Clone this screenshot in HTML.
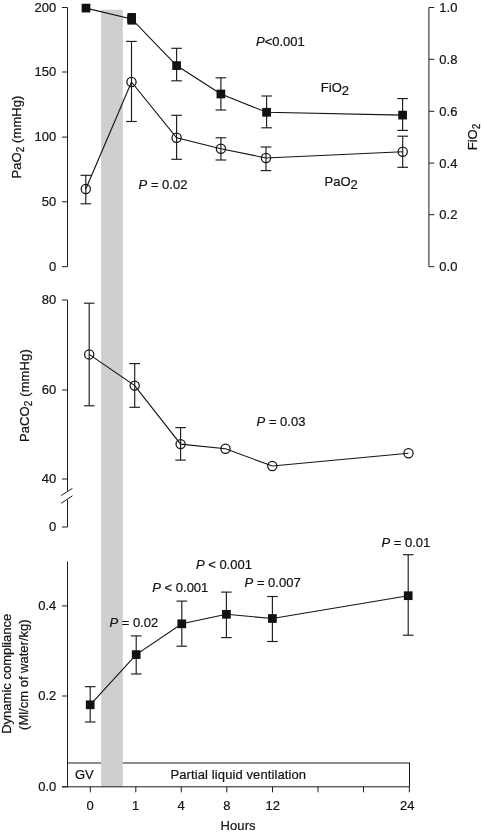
<!DOCTYPE html>
<html><head><meta charset="utf-8"><title>Figure</title>
<style>
html,body{margin:0;padding:0;background:#fff;}
body{width:483px;height:833px;overflow:hidden;}
svg{display:block;font-family:"Liberation Sans",sans-serif;}
text{fill:#141414;stroke:#141414;stroke-width:0.22px;}
</style></head><body>
<svg width="483" height="833" viewBox="0 0 483 833">
<rect width="483" height="833" fill="#fff"/>
<line x1="67.5" y1="763" x2="409.5" y2="763" stroke="#1c1c1c" stroke-width="1.0"/>
<rect x="101.1" y="9.7" width="21.7" height="777.1" fill="#cfcfcf"/>
<line x1="67.5" y1="7.5" x2="67.5" y2="266.7" stroke="#1c1c1c" stroke-width="1.0"/>
<line x1="62" y1="7.5" x2="67.5" y2="7.5" stroke="#1c1c1c" stroke-width="1.0"/>
<text x="56.3" y="11.8" text-anchor="end" font-size="13" >200</text>
<line x1="62" y1="72" x2="67.5" y2="72" stroke="#1c1c1c" stroke-width="1.0"/>
<text x="56.3" y="76.3" text-anchor="end" font-size="13" >150</text>
<line x1="62" y1="137.1" x2="67.5" y2="137.1" stroke="#1c1c1c" stroke-width="1.0"/>
<text x="56.3" y="141.4" text-anchor="end" font-size="13" >100</text>
<line x1="62" y1="201.8" x2="67.5" y2="201.8" stroke="#1c1c1c" stroke-width="1.0"/>
<text x="56.3" y="206.10000000000002" text-anchor="end" font-size="13" >50</text>
<line x1="62" y1="266.7" x2="67.5" y2="266.7" stroke="#1c1c1c" stroke-width="1.0"/>
<text x="56.3" y="271.0" text-anchor="end" font-size="13" >0</text>
<line x1="428.9" y1="7.5" x2="428.9" y2="266.7" stroke="#1c1c1c" stroke-width="1.0"/>
<line x1="428.9" y1="7.5" x2="434.3" y2="7.5" stroke="#1c1c1c" stroke-width="1.0"/>
<text x="439.3" y="11.9" text-anchor="start" font-size="13" >1.0</text>
<line x1="428.9" y1="59.3" x2="434.3" y2="59.3" stroke="#1c1c1c" stroke-width="1.0"/>
<text x="439.3" y="63.699999999999996" text-anchor="start" font-size="13" >0.8</text>
<line x1="428.9" y1="111.3" x2="434.3" y2="111.3" stroke="#1c1c1c" stroke-width="1.0"/>
<text x="439.3" y="115.7" text-anchor="start" font-size="13" >0.6</text>
<line x1="428.9" y1="163.1" x2="434.3" y2="163.1" stroke="#1c1c1c" stroke-width="1.0"/>
<text x="439.3" y="167.5" text-anchor="start" font-size="13" >0.4</text>
<line x1="428.9" y1="214.7" x2="434.3" y2="214.7" stroke="#1c1c1c" stroke-width="1.0"/>
<text x="439.3" y="219.1" text-anchor="start" font-size="13" >0.2</text>
<line x1="428.9" y1="266.7" x2="434.3" y2="266.7" stroke="#1c1c1c" stroke-width="1.0"/>
<text x="439.3" y="271.09999999999997" text-anchor="start" font-size="13" >0.0</text>
<text transform="translate(21,137) rotate(-90)" text-anchor="middle" font-size="13" letter-spacing="0.08">PaO<tspan font-size="10" dy="3.3">2</tspan><tspan dy="-3.3"> (mmHg)</tspan></text>
<text transform="translate(476.6,137) rotate(-90)" text-anchor="middle" font-size="13">FiO<tspan font-size="10" dy="3.3">2</tspan></text>
<line x1="85.8" y1="175.3" x2="85.8" y2="203.8" stroke="#1c1c1c" stroke-width="1.15"/>
<line x1="80.5" y1="175.3" x2="91.1" y2="175.3" stroke="#1c1c1c" stroke-width="1.15"/>
<line x1="80.5" y1="203.8" x2="91.1" y2="203.8" stroke="#1c1c1c" stroke-width="1.15"/>
<line x1="131.5" y1="41.4" x2="131.5" y2="121.5" stroke="#1c1c1c" stroke-width="1.15"/>
<line x1="126.2" y1="41.4" x2="136.8" y2="41.4" stroke="#1c1c1c" stroke-width="1.15"/>
<line x1="126.2" y1="121.5" x2="136.8" y2="121.5" stroke="#1c1c1c" stroke-width="1.15"/>
<line x1="176.6" y1="115.3" x2="176.6" y2="159.3" stroke="#1c1c1c" stroke-width="1.15"/>
<line x1="171.29999999999998" y1="115.3" x2="181.9" y2="115.3" stroke="#1c1c1c" stroke-width="1.15"/>
<line x1="171.29999999999998" y1="159.3" x2="181.9" y2="159.3" stroke="#1c1c1c" stroke-width="1.15"/>
<line x1="220.9" y1="137.8" x2="220.9" y2="160" stroke="#1c1c1c" stroke-width="1.15"/>
<line x1="215.6" y1="137.8" x2="226.20000000000002" y2="137.8" stroke="#1c1c1c" stroke-width="1.15"/>
<line x1="215.6" y1="160" x2="226.20000000000002" y2="160" stroke="#1c1c1c" stroke-width="1.15"/>
<line x1="266" y1="147" x2="266" y2="170.6" stroke="#1c1c1c" stroke-width="1.15"/>
<line x1="260.7" y1="147" x2="271.3" y2="147" stroke="#1c1c1c" stroke-width="1.15"/>
<line x1="260.7" y1="170.6" x2="271.3" y2="170.6" stroke="#1c1c1c" stroke-width="1.15"/>
<line x1="402.7" y1="136.2" x2="402.7" y2="167.3" stroke="#1c1c1c" stroke-width="1.15"/>
<line x1="397.4" y1="136.2" x2="408.0" y2="136.2" stroke="#1c1c1c" stroke-width="1.15"/>
<line x1="397.4" y1="167.3" x2="408.0" y2="167.3" stroke="#1c1c1c" stroke-width="1.15"/>
<line x1="176.6" y1="48.3" x2="176.6" y2="80.8" stroke="#1c1c1c" stroke-width="1.15"/>
<line x1="171.29999999999998" y1="48.3" x2="181.9" y2="48.3" stroke="#1c1c1c" stroke-width="1.15"/>
<line x1="171.29999999999998" y1="80.8" x2="181.9" y2="80.8" stroke="#1c1c1c" stroke-width="1.15"/>
<line x1="220.9" y1="77.8" x2="220.9" y2="110" stroke="#1c1c1c" stroke-width="1.15"/>
<line x1="215.6" y1="77.8" x2="226.20000000000002" y2="77.8" stroke="#1c1c1c" stroke-width="1.15"/>
<line x1="215.6" y1="110" x2="226.20000000000002" y2="110" stroke="#1c1c1c" stroke-width="1.15"/>
<line x1="266.6" y1="96" x2="266.6" y2="127.8" stroke="#1c1c1c" stroke-width="1.15"/>
<line x1="261.3" y1="96" x2="271.90000000000003" y2="96" stroke="#1c1c1c" stroke-width="1.15"/>
<line x1="261.3" y1="127.8" x2="271.90000000000003" y2="127.8" stroke="#1c1c1c" stroke-width="1.15"/>
<line x1="402.6" y1="98.6" x2="402.6" y2="130.4" stroke="#1c1c1c" stroke-width="1.15"/>
<line x1="397.3" y1="98.6" x2="407.90000000000003" y2="98.6" stroke="#1c1c1c" stroke-width="1.15"/>
<line x1="397.3" y1="130.4" x2="407.90000000000003" y2="130.4" stroke="#1c1c1c" stroke-width="1.15"/>
<polyline fill="none" stroke="#141414" stroke-width="1.15" points="85.8,189 131.5,82 176.6,137.8 220.9,148.7 266,158 402.7,151.7"/>
<polyline fill="none" stroke="#141414" stroke-width="1.15" points="86,8.1 131.6,18.9 176.6,65.6 220.9,94 266.6,112.3 402.6,115.1"/>
<circle cx="85.8" cy="189" r="4.6" fill="none" stroke="#141414" stroke-width="1.25"/>
<circle cx="131.5" cy="82" r="4.6" fill="none" stroke="#141414" stroke-width="1.25"/>
<circle cx="176.6" cy="137.8" r="4.6" fill="none" stroke="#141414" stroke-width="1.25"/>
<circle cx="220.9" cy="148.7" r="4.6" fill="none" stroke="#141414" stroke-width="1.25"/>
<circle cx="266" cy="158" r="4.6" fill="none" stroke="#141414" stroke-width="1.25"/>
<circle cx="402.7" cy="151.7" r="4.6" fill="none" stroke="#141414" stroke-width="1.25"/>
<rect x="81.65" y="3.75" width="8.7" height="8.7" fill="#111"/>
<rect x="127.25" y="14.549999999999999" width="8.7" height="8.7" fill="#111"/>
<rect x="172.25" y="61.24999999999999" width="8.7" height="8.7" fill="#111"/>
<rect x="216.55" y="89.65" width="8.7" height="8.7" fill="#111"/>
<rect x="262.25" y="107.95" width="8.7" height="8.7" fill="#111"/>
<rect x="398.25" y="110.75" width="8.7" height="8.7" fill="#111"/>
<rect x="127.5" y="13" width="8.4" height="11.6" fill="#111"/>
<text x="256" y="46" text-anchor="start" font-size="13" ><tspan font-style="italic">P</tspan>&lt;0.001</text>
<text x="320.8" y="91.8" text-anchor="start" font-size="13" >FiO<tspan dy="3.2">2</tspan></text>
<text x="138.6" y="189.4" text-anchor="start" font-size="13" ><tspan font-style="italic">P</tspan> = 0.02</text>
<text x="324.6" y="185.8" text-anchor="start" font-size="13" >PaO<tspan dy="3.2">2</tspan></text>
<line x1="67.5" y1="300" x2="67.5" y2="490.8" stroke="#1c1c1c" stroke-width="1.0"/>
<line x1="67.5" y1="499.6" x2="67.5" y2="527" stroke="#1c1c1c" stroke-width="1.0"/>
<line x1="61.1" y1="495.5" x2="72.5" y2="488.3" stroke="#1c1c1c" stroke-width="1.0"/>
<line x1="61.1" y1="503.3" x2="72.5" y2="495.8" stroke="#1c1c1c" stroke-width="1.0"/>
<line x1="62" y1="300" x2="67.5" y2="300" stroke="#1c1c1c" stroke-width="1.0"/>
<text x="56.3" y="304.3" text-anchor="end" font-size="13" >80</text>
<line x1="62" y1="390" x2="67.5" y2="390" stroke="#1c1c1c" stroke-width="1.0"/>
<text x="56.3" y="394.3" text-anchor="end" font-size="13" >60</text>
<line x1="62" y1="479" x2="67.5" y2="479" stroke="#1c1c1c" stroke-width="1.0"/>
<text x="56.3" y="483.3" text-anchor="end" font-size="13" >40</text>
<line x1="62" y1="527" x2="67.5" y2="527" stroke="#1c1c1c" stroke-width="1.0"/>
<text x="56.3" y="531.3" text-anchor="end" font-size="13" >0</text>
<text transform="translate(28.9,395.6) rotate(-90)" text-anchor="middle" font-size="13" letter-spacing="0.12">PaCO<tspan font-size="10" dy="3.3">2</tspan><tspan dy="-3.3"> (mmHg)</tspan></text>
<line x1="89.2" y1="303.2" x2="89.2" y2="405.8" stroke="#1c1c1c" stroke-width="1.15"/>
<line x1="83.9" y1="303.2" x2="94.5" y2="303.2" stroke="#1c1c1c" stroke-width="1.15"/>
<line x1="83.9" y1="405.8" x2="94.5" y2="405.8" stroke="#1c1c1c" stroke-width="1.15"/>
<line x1="134.7" y1="363.6" x2="134.7" y2="407.3" stroke="#1c1c1c" stroke-width="1.15"/>
<line x1="129.39999999999998" y1="363.6" x2="140.0" y2="363.6" stroke="#1c1c1c" stroke-width="1.15"/>
<line x1="129.39999999999998" y1="407.3" x2="140.0" y2="407.3" stroke="#1c1c1c" stroke-width="1.15"/>
<line x1="180.6" y1="427.6" x2="180.6" y2="460.1" stroke="#1c1c1c" stroke-width="1.15"/>
<line x1="175.29999999999998" y1="427.6" x2="185.9" y2="427.6" stroke="#1c1c1c" stroke-width="1.15"/>
<line x1="175.29999999999998" y1="460.1" x2="185.9" y2="460.1" stroke="#1c1c1c" stroke-width="1.15"/>
<polyline fill="none" stroke="#141414" stroke-width="1.15" points="89.2,354.4 134.7,385.6 180.6,444.1 225.5,448.8 272.3,466 408.5,453.3"/>
<circle cx="89.2" cy="354.4" r="4.6" fill="none" stroke="#141414" stroke-width="1.25"/>
<circle cx="134.7" cy="385.6" r="4.6" fill="none" stroke="#141414" stroke-width="1.25"/>
<circle cx="180.6" cy="444.1" r="4.6" fill="none" stroke="#141414" stroke-width="1.25"/>
<circle cx="225.5" cy="448.8" r="4.6" fill="none" stroke="#141414" stroke-width="1.25"/>
<circle cx="272.3" cy="466" r="4.6" fill="none" stroke="#141414" stroke-width="1.25"/>
<circle cx="408.5" cy="453.3" r="4.6" fill="none" stroke="#141414" stroke-width="1.25"/>
<text x="256.6" y="425.6" text-anchor="start" font-size="13" ><tspan font-style="italic">P</tspan> = 0.03</text>
<line x1="67.5" y1="561.5" x2="67.5" y2="786.8" stroke="#1c1c1c" stroke-width="1.0"/>
<line x1="62" y1="605.9" x2="67.5" y2="605.9" stroke="#1c1c1c" stroke-width="1.0"/>
<text x="56.3" y="610.1999999999999" text-anchor="end" font-size="13" >0.4</text>
<line x1="62" y1="696" x2="67.5" y2="696" stroke="#1c1c1c" stroke-width="1.0"/>
<text x="56.3" y="700.3" text-anchor="end" font-size="13" >0.2</text>
<line x1="62" y1="786.8" x2="67.5" y2="786.8" stroke="#1c1c1c" stroke-width="1.0"/>
<text x="56.3" y="791.0999999999999" text-anchor="end" font-size="13" >0.0</text>
<text transform="translate(11.2,673.8) rotate(-90)" text-anchor="middle" font-size="13">Dynamic compliance</text>
<text transform="translate(27.6,674.7) rotate(-90)" text-anchor="middle" font-size="13">(Ml/cm of water/kg)</text>
<line x1="90.2" y1="686.7" x2="90.2" y2="722" stroke="#1c1c1c" stroke-width="1.15"/>
<line x1="84.9" y1="686.7" x2="95.5" y2="686.7" stroke="#1c1c1c" stroke-width="1.15"/>
<line x1="84.9" y1="722" x2="95.5" y2="722" stroke="#1c1c1c" stroke-width="1.15"/>
<line x1="136.2" y1="635.9" x2="136.2" y2="674" stroke="#1c1c1c" stroke-width="1.15"/>
<line x1="130.89999999999998" y1="635.9" x2="141.5" y2="635.9" stroke="#1c1c1c" stroke-width="1.15"/>
<line x1="130.89999999999998" y1="674" x2="141.5" y2="674" stroke="#1c1c1c" stroke-width="1.15"/>
<line x1="181.8" y1="601.1" x2="181.8" y2="646.2" stroke="#1c1c1c" stroke-width="1.15"/>
<line x1="176.5" y1="601.1" x2="187.10000000000002" y2="601.1" stroke="#1c1c1c" stroke-width="1.15"/>
<line x1="176.5" y1="646.2" x2="187.10000000000002" y2="646.2" stroke="#1c1c1c" stroke-width="1.15"/>
<line x1="226.4" y1="592.1" x2="226.4" y2="637.6" stroke="#1c1c1c" stroke-width="1.15"/>
<line x1="221.1" y1="592.1" x2="231.70000000000002" y2="592.1" stroke="#1c1c1c" stroke-width="1.15"/>
<line x1="221.1" y1="637.6" x2="231.70000000000002" y2="637.6" stroke="#1c1c1c" stroke-width="1.15"/>
<line x1="272.4" y1="596.5" x2="272.4" y2="641.5" stroke="#1c1c1c" stroke-width="1.15"/>
<line x1="267.09999999999997" y1="596.5" x2="277.7" y2="596.5" stroke="#1c1c1c" stroke-width="1.15"/>
<line x1="267.09999999999997" y1="641.5" x2="277.7" y2="641.5" stroke="#1c1c1c" stroke-width="1.15"/>
<line x1="408.2" y1="554.7" x2="408.2" y2="635.2" stroke="#1c1c1c" stroke-width="1.15"/>
<line x1="402.9" y1="554.7" x2="413.5" y2="554.7" stroke="#1c1c1c" stroke-width="1.15"/>
<line x1="402.9" y1="635.2" x2="413.5" y2="635.2" stroke="#1c1c1c" stroke-width="1.15"/>
<polyline fill="none" stroke="#141414" stroke-width="1.15" points="90.2,704.8 136.2,654.6 181.8,623.8 226.4,614.3 272.4,618.5 408.2,595.7"/>
<rect x="85.85000000000001" y="700.4499999999999" width="8.7" height="8.7" fill="#111"/>
<rect x="131.85" y="650.25" width="8.7" height="8.7" fill="#111"/>
<rect x="177.45000000000002" y="619.4499999999999" width="8.7" height="8.7" fill="#111"/>
<rect x="222.05" y="609.9499999999999" width="8.7" height="8.7" fill="#111"/>
<rect x="268.04999999999995" y="614.15" width="8.7" height="8.7" fill="#111"/>
<rect x="403.84999999999997" y="591.35" width="8.7" height="8.7" fill="#111"/>
<text x="109.4" y="627" text-anchor="start" font-size="13" ><tspan font-style="italic">P</tspan> = 0.02</text>
<text x="152.3" y="592" text-anchor="start" font-size="13" ><tspan font-style="italic">P</tspan> &lt; 0.001</text>
<text x="195.9" y="569.1" text-anchor="start" font-size="13" ><tspan font-style="italic">P</tspan> &lt; 0.001</text>
<text x="244.6" y="587.3" text-anchor="start" font-size="13" ><tspan font-style="italic">P</tspan> = 0.007</text>
<text x="381.5" y="546.7" text-anchor="start" font-size="13" ><tspan font-style="italic">P</tspan> = 0.01</text>
<line x1="409.5" y1="762.5" x2="409.5" y2="786.8" stroke="#1c1c1c" stroke-width="1.0"/>
<line x1="62" y1="786.8" x2="410" y2="786.8" stroke="#1c1c1c" stroke-width="1.0"/>
<line x1="90.3" y1="786.8" x2="90.3" y2="792.3" stroke="#1c1c1c" stroke-width="1.0"/>
<line x1="135.8" y1="786.8" x2="135.8" y2="792.3" stroke="#1c1c1c" stroke-width="1.0"/>
<line x1="181.3" y1="786.8" x2="181.3" y2="792.3" stroke="#1c1c1c" stroke-width="1.0"/>
<line x1="226.8" y1="786.8" x2="226.8" y2="792.3" stroke="#1c1c1c" stroke-width="1.0"/>
<line x1="272.5" y1="786.8" x2="272.5" y2="792.3" stroke="#1c1c1c" stroke-width="1.0"/>
<line x1="318" y1="786.8" x2="318" y2="792.3" stroke="#1c1c1c" stroke-width="1.0"/>
<line x1="363.5" y1="786.8" x2="363.5" y2="792.3" stroke="#1c1c1c" stroke-width="1.0"/>
<line x1="409.3" y1="786.8" x2="409.3" y2="792.3" stroke="#1c1c1c" stroke-width="1.0"/>
<text x="90.2" y="809.7" text-anchor="middle" font-size="13" >0</text>
<text x="135.7" y="809.7" text-anchor="middle" font-size="13" >1</text>
<text x="181.2" y="809.7" text-anchor="middle" font-size="13" >4</text>
<text x="226.8" y="809.7" text-anchor="middle" font-size="13" >8</text>
<text x="272.7" y="809.7" text-anchor="middle" font-size="13" >12</text>
<text x="407.2" y="809.7" text-anchor="middle" font-size="13" >24</text>
<text x="75" y="779.3" text-anchor="start" font-size="13" >GV</text>
<text x="170.5" y="779.3" text-anchor="start" font-size="13" textLength="135.6" lengthAdjust="spacing">Partial liquid ventilation</text>
<text x="220.6" y="829.8" text-anchor="start" font-size="13" textLength="35" lengthAdjust="spacing">Hours</text>
</svg>
</body></html>
